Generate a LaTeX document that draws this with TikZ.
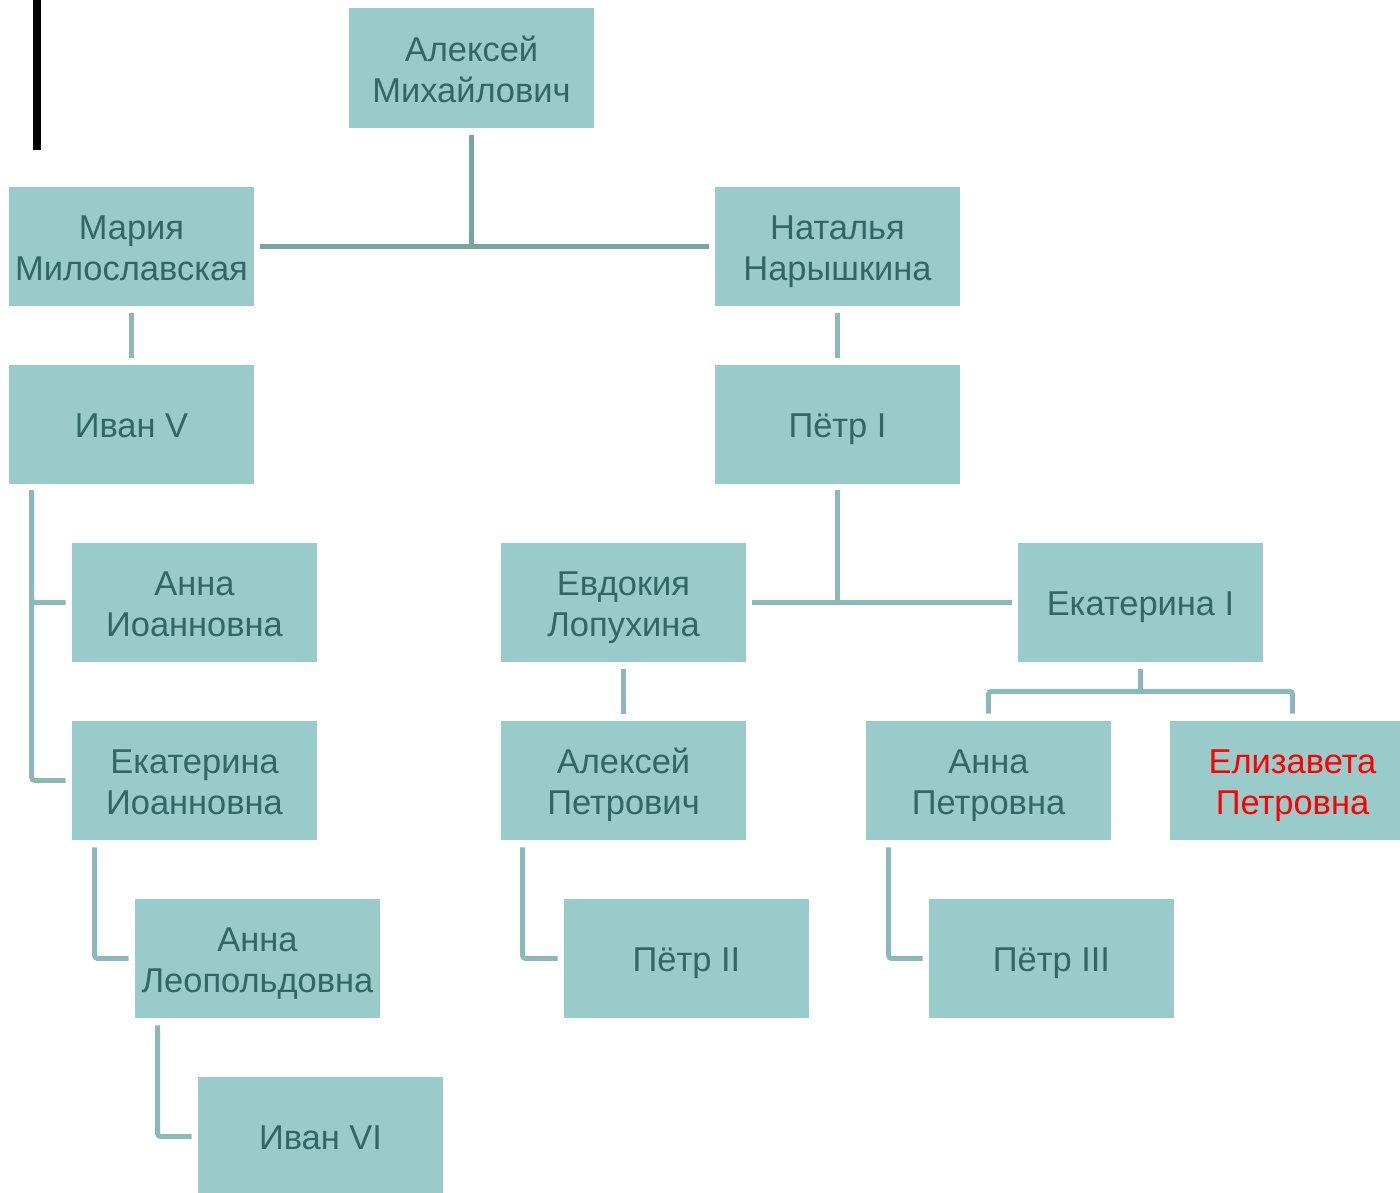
\documentclass[tikz,border=0pt]{standalone}
\usepackage{fontspec}
\setmainfont{Liberation Sans}
\usetikzlibrary{positioning,calc}
\definecolor{boxfill}{HTML}{99CBCB}
\definecolor{boxtext}{HTML}{336666}
\definecolor{linkdark}{HTML}{7AA3A3}
\definecolor{linklight}{HTML}{8BB9B9}
\newcommand\topstrut{\rule{0pt}{24.3pt}}
\newcommand\tallstrut{\rule{0pt}{25.3pt}}
\newcommand\botstrut{\rule[-5.5pt]{0pt}{5.5pt}}

\begin{document}
\begin{tikzpicture}[x=0.025cm, y=-0.025cm]
    \tikzstyle{person} = [rectangle, fill=boxfill, text=boxtext, minimum width=6.125cm, minimum height=2.975cm, inner sep=0pt, align=center, font=\fontsize{24.5}{29.2}\selectfont, execute at begin node=\topstrut, execute at end node=\botstrut]
    \tikzstyle{link} = [draw=linklight, line width=3.5pt, rounded corners=2pt]
    \tikzstyle{marriage} = [draw=linkdark, line width=3.5pt]

    \useasboundingbox (0,0) rectangle (1400,1192);
    \clip (0,0) rectangle (1400,1192);

    % Black bar
    \fill[black] (33,0) rectangle (41,150);

    % First generation
    \node[person] (aleksejm) at (471.5,68) {\tallstrut Алексей\\Михайлович};
    \node[person] (marija) at (131.5,246.5) {\tallstrut Мария\\Милославская};
    \node[person] (natalja) at (837.5,246.5) {\tallstrut Наталья\\Нарышкина};

    % Second generation
    \node[person] (ivan5) at (131.5,424.5) {Иван V};
    \node[person] (petr1) at (837.5,424.5) {Пётр I};

    % Third generation
    \node[person] (annaio) at (194.5,602.5) {\tallstrut Анна\\Иоанновна};
    \node[person] (ekatio) at (194.5,780.5) {\tallstrut Екатерина\\Иоанновна};
    \node[person] (evdokija) at (623.5,602.5) {\tallstrut Евдокия\\Лопухина};
    \node[person] (ekat1) at (1140.5,602.5) {Екатерина I};
    \node[person] (aleksejp) at (623.5,780.5) {\tallstrut Алексей\\Петрович};
    \node[person] (annapet) at (988.5,780.5) {\tallstrut Анна\\Петровна};
    \node[person, text=red] (elizaveta) at (1292.5,780.5) {\tallstrut Елизавета\\Петровна};

    % Fourth generation
    \node[person] (annaleo) at (257.5,958.5) {\tallstrut Анна\\Леопольдовна};
    \node[person] (petr2) at (686.5,958.5) {Пётр II};
    \node[person] (petr3) at (1051.5,958.5) {Пётр III};
    \node[person] (ivan6) at (320.5,1136.5) {Иван VI};

    % Marriages
    \draw[marriage] ($(marija.east)+(6,0)$) -- ($(natalja.west)+(-6,0)$);
    \draw[marriage] ($(aleksejm.south)+(0,7)$) -- (aleksejm |- marija);
    \draw[link] ($(evdokija.east)+(6,0)$) -- ($(ekat1.west)+(-6,0)$);
    \draw[link] ($(petr1.south)+(0,6)$) -- (petr1 |- ekat1);

    % Children
    \draw[link] ($(marija.south)+(0,7)$) -- ($(ivan5.north)+(0,-7)$);
    \draw[link] ($(natalja.south)+(0,7)$) -- ($(petr1.north)+(0,-7)$);
    \draw[link] ($(evdokija.south)+(0,7)$) -- ($(aleksejp.north)+(0,-7)$);
    \draw[link] ($(ivan5.south west)+(23,6)$) |- ($(annaio.west)+(-6,0)$);
    \draw[link] ($(ivan5.south west)+(23,6)$) |- ($(ekatio.west)+(-6,0)$);
    \draw[link] ($(ekatio.south west)+(23,7)$) |- ($(annaleo.west)+(-6,0)$);
    \draw[link] ($(annaleo.south west)+(23,7)$) |- ($(ivan6.west)+(-6,0)$);
    \draw[link] ($(aleksejp.south west)+(22,7)$) |- ($(petr2.west)+(-6,0)$);
    \draw[link] ($(annapet.south west)+(23,7)$) |- ($(petr3.west)+(-6,0)$);

    % Daughters of Ekaterina I
    \coordinate (ekatfork) at ($(ekat1.south)+(0,29)$);
    \draw[link] ($(ekat1.south)+(0,7)$) -- (ekatfork);
    \draw[link] ($(annapet.north)+(0,-7)$) |- (ekatfork) -| ($(elizaveta.north)+(0,-7)$);
\end{tikzpicture}
\end{document}
